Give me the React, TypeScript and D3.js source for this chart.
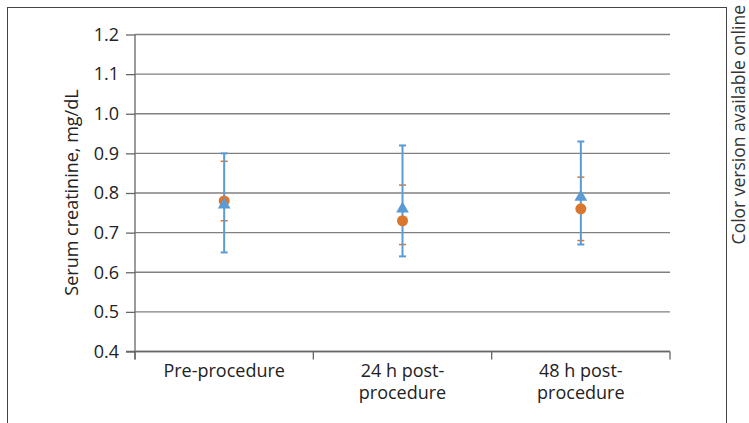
import React, { useEffect, useRef } from 'react';
import * as d3 from 'd3';

// categories and values
const categories = ['Pre-procedure', '24 h post-procedure', '48 h post-procedure'];
const categoryLines = [['Pre-procedure'], ['24 h post-', 'procedure'], ['48 h post-', 'procedure']];
const yTicks = [0.4, 0.5, 0.6, 0.7, 0.8, 0.9, 1.0, 1.1, 1.2];

// triangle series (blue) with its error range
const triValues = [0.77, 0.76, 0.79];
const triLow = [0.65, 0.64, 0.67];
const triHigh = [0.9, 0.92, 0.93];

// circle series (orange) with its error range
const dotValues = [0.78, 0.73, 0.76];
const dotLow = [0.73, 0.67, 0.68];
const dotHigh = [0.88, 0.82, 0.84];

const blue = '#5b9bd5';
const orange = '#d9772e';
const font = '"Open Sans", "Noto Sans", sans-serif';
const fs = 18;

const App = () => {
  const ref = useRef<SVGSVGElement>(null);

  useEffect(() => {
    const height = 423;
    const plot = { left: 135, right: 670, top: 34.5, bottom: 351.5 };

    const svg = d3.select(ref.current);
    svg.selectAll('*').remove();

    // outer frame
    svg.append('rect')
      .attr('x', 7.5).attr('y', 7.5)
      .attr('width', 719).attr('height', height + 20)
      .attr('fill', 'none').attr('stroke', '#444').attr('stroke-width', 1);

    const y = d3.scaleLinear().domain([0.4, 1.2]).range([plot.bottom, plot.top]);
    const x = d3.scaleBand<string>().domain(categories).range([plot.left, plot.right]);
    const cx = (c: string) => (x(c) as number) + x.bandwidth() / 2;

    // gridlines
    svg.append('g').selectAll('line').data(yTicks).join('line')
      .attr('x1', plot.left).attr('x2', plot.right)
      .attr('y1', d => y(d)).attr('y2', d => y(d))
      .attr('stroke', '#808080').attr('stroke-width', 1.3);

    // y axis
    const yAxis = svg.append('g').attr('transform', `translate(${plot.left},0)`)
      .call(d3.axisLeft(y).tickValues(yTicks).tickFormat(d3.format('.1f')).tickSize(9).tickPadding(7));
    yAxis.select('.domain').attr('d', `M0,${plot.top}V${plot.bottom + 8}`);
    yAxis.selectAll('line').attr('stroke', '#666').attr('stroke-width', 1.3);
    yAxis.selectAll('path').attr('stroke', '#666').attr('stroke-width', 1.3);
    yAxis.selectAll('text').attr('font-family', font).attr('font-size', fs).attr('fill', '#222');

    // x axis
    const bounds = [plot.left, ...categories.map(c => (x(c) as number) + x.bandwidth())];
    svg.append('line')
      .attr('x1', plot.left - 9).attr('x2', plot.right)
      .attr('y1', plot.bottom).attr('y2', plot.bottom)
      .attr('stroke', '#666').attr('stroke-width', 1.3);
    svg.append('g').selectAll('line').data(bounds).join('line')
      .attr('x1', d => d).attr('x2', d => d)
      .attr('y1', plot.bottom).attr('y2', plot.bottom + 8)
      .attr('stroke', '#666').attr('stroke-width', 1.3);

    const xl = svg.append('g').selectAll('text').data(categories).join('text')
      .attr('x', d => cx(d)).attr('y', 377)
      .attr('text-anchor', 'middle')
      .attr('font-family', font).attr('font-size', fs).attr('fill', '#222');
    xl.each(function (d, i) {
      d3.select(this).selectAll('tspan').data(categoryLines[i]).join('tspan')
        .attr('x', cx(d)).attr('dy', (_, j) => (j === 0 ? 0 : 22))
        .text(t => t);
    });

    // y axis title
    svg.append('text')
      .attr('transform', 'translate(78,192.5) rotate(-90)')
      .attr('text-anchor', 'middle')
      .attr('font-family', font).attr('font-size', fs).attr('fill', '#222')
      .text('Serum creatinine, mg/dL');

    // side note
    svg.append('text')
      .attr('transform', 'translate(745,5) rotate(-90)')
      .attr('text-anchor', 'end')
      .attr('font-family', font).attr('font-size', 17.5).attr('fill', '#333')
      .text('Color version available online');

    const cap = 3.5;

    // orange error caps
    categories.forEach((c, i) => {
      [dotLow[i], dotHigh[i]].forEach(v => {
        svg.append('line')
          .attr('x1', cx(c) - cap).attr('x2', cx(c) + cap)
          .attr('y1', y(v)).attr('y2', y(v))
          .attr('stroke', orange).attr('stroke-width', 1.5);
      });
    });

    // blue error bars
    categories.forEach((c, i) => {
      const g = svg.append('g').attr('stroke', blue).attr('stroke-width', 2);
      g.append('line').attr('x1', cx(c)).attr('x2', cx(c))
        .attr('y1', y(triLow[i])).attr('y2', y(triHigh[i]));
      [triLow[i], triHigh[i]].forEach(v => {
        g.append('line').attr('x1', cx(c) - cap).attr('x2', cx(c) + cap)
          .attr('y1', y(v)).attr('y2', y(v));
      });
    });

    // circles
    svg.append('g').selectAll('circle').data(categories).join('circle')
      .attr('cx', d => cx(d)).attr('cy', (_, i) => y(dotValues[i]))
      .attr('r', 5.5).attr('fill', orange);

    // triangles
    const tri = d3.symbol().type(d3.symbolTriangle).size(70);
    svg.append('g').selectAll('path').data(categories).join('path')
      .attr('d', tri)
      .attr('transform', (d, i) => `translate(${cx(d)},${y(triValues[i])})`)
      .attr('fill', blue);
  }, []);

  return (
    <svg ref={ref} width={749} height={423}
      style={{ position: 'absolute', left: 0, top: 0, background: '#fff' }} />
  );
};

export default App;
